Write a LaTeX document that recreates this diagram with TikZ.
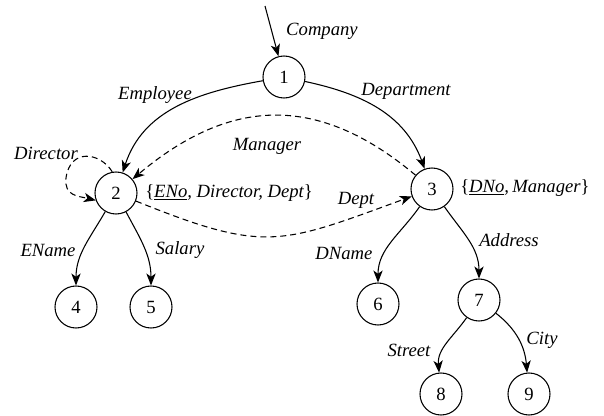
\documentclass[tikz,border=0pt]{standalone}
\usepackage{fontspec}
\setmainfont{Liberation Serif}
\usetikzlibrary{arrows.meta}
\begin{document}
\begin{tikzpicture}[x=0.75pt,y=-0.75pt,
  state/.style={circle,draw,line width=0.8pt,minimum size=31.5pt,inner sep=0pt,font=\fontsize{14}{16}\selectfont},
  lab/.style={font=\fontsize{14}{16}\selectfont\itshape,inner sep=0pt},
  arr/.style={line width=0.8pt,-{Stealth[length=9pt,width=7pt,inset=2.5pt]}},
  darr/.style={arr,dash pattern=on 4.5pt off 3pt}]
\useasboundingbox (0,0) rectangle (604,415);
\node[state] (n1) at (284,77) {1};
\node[state] (n2) at (116,193) {2};
\node[state] (n3) at (432,189) {3};
\node[state] (n4) at (76,307) {4};
\node[state] (n5) at (151,307) {5};
\node[state] (n6) at (378,304) {6};
\node[state] (n7) at (479,300) {7};
\node[state] (n8) at (441,394) {8};
\node[state] (n9) at (529,394) {9};
\coordinate (c0) at (265,6);
\draw[arr] (c0) -- (n1);
\node[lab] (lcomp) at (322,31) {Company};
\draw[arr] (n1) to[out=190,in=72] (n2);
\node[lab] (lemp) at (155,95) {Employee};
\draw[arr] (n1) to[out=-12,in=110] (n3);
\node[lab] (ldep) at (406,91) {Department};
\draw[darr] (n3) to[out=140,in=40,looseness=1.15] (n2);
\node[lab] (lman) at (267,146) {Manager};
\draw[darr] (n2.100) .. controls (100,152) and (70,148) .. (66,178)
  .. controls (64,196) and (78,196) .. (n2.200);
\node[lab] (ldir) at (46,153) {Director};
\draw[darr] (n2) to[out=-22,in=200,looseness=1.3] (n3);
\node[lab] (ldept) at (356,200) {Dept};
\node[lab,anchor=west] (s2) at (145,193) {\upshape\{\itshape\underline{ENo}, Director, Dept\upshape\}};
\node[lab,anchor=west] (s3) at (460,188) {\upshape\{\itshape\underline{DNo},\,Manager\upshape\}};
\draw[arr] (n2) to[out=240,in=90] (n4);
\node[lab] (lena) at (48,250) {EName};
\draw[arr] (n2) to[out=-62,in=90] (n5);
\node[lab] (lsal) at (180,250) {Salary};
\draw[arr] (n3) to[out=235,in=90] (n6);
\node[lab] (ldna) at (344,253) {DName};
\draw[arr] (n3) to[out=-55,in=90] (n7);
\node[lab] (ladd) at (509,240) {Address};
\draw[arr] (n7) to[out=235,in=95] (n8);
\node[lab] (lstr) at (409,350) {Street};
\draw[arr] (n7) to[out=-38,in=95] (n9);
\node[lab] (lcity) at (542,340) {City};
\end{tikzpicture}
\end{document}
